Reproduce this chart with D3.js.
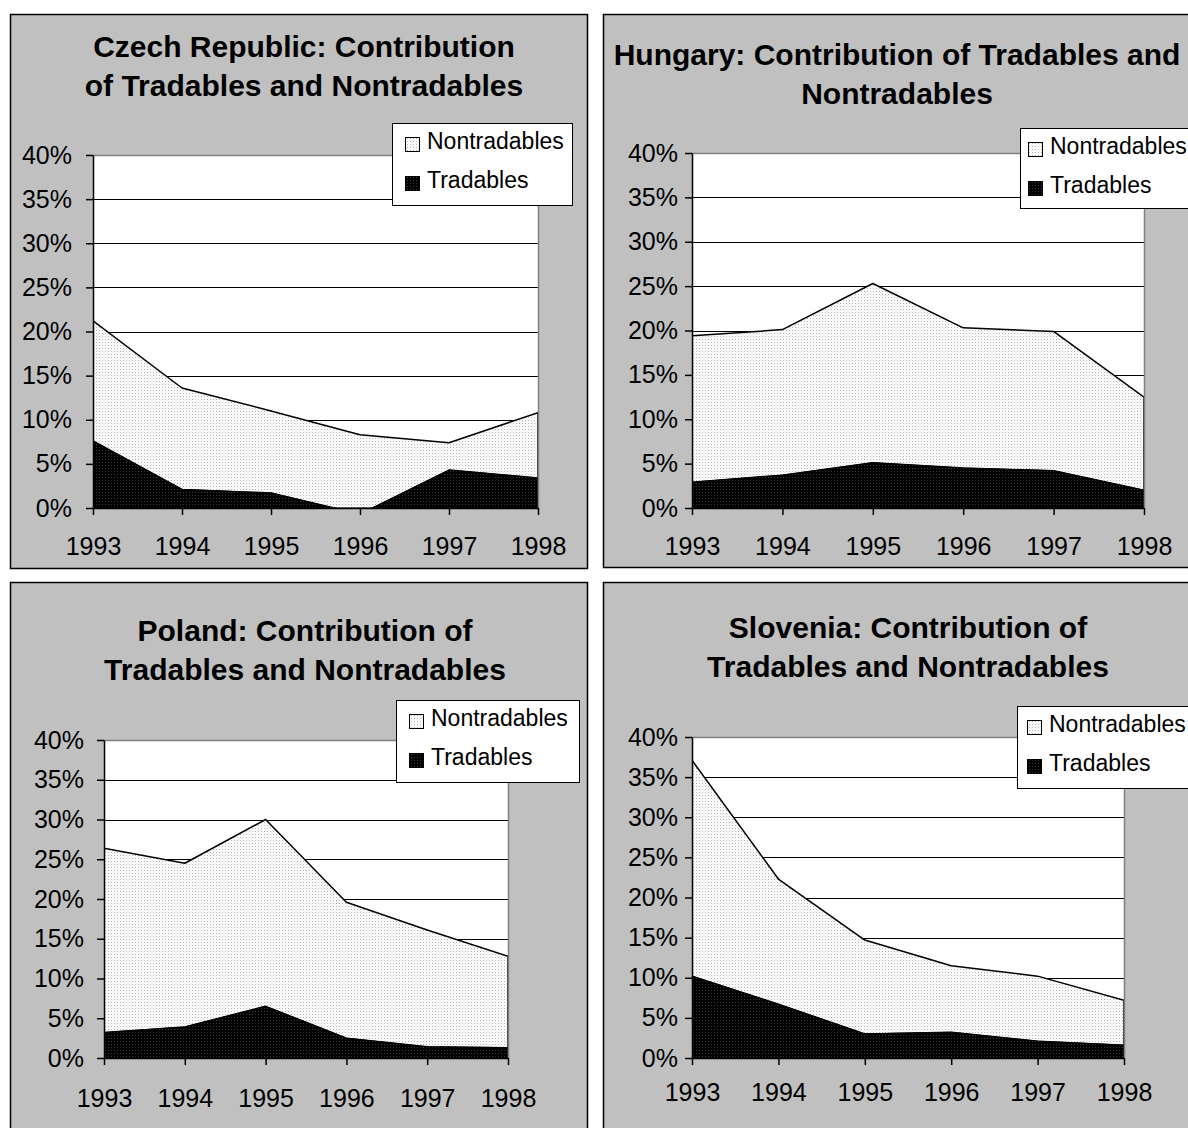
<!DOCTYPE html>
<html>
<head>
<meta charset="utf-8">
<script src="https://cdn.jsdelivr.net/npm/d3@7"></script>
<style>
  body { margin: 0; background: #fff; }
  text { font-family: "Liberation Sans", Arial, sans-serif; fill: #000; }
</style>
</head>
<body>
<div id="chart"></div>
<script>
// data (percent)
const years = [1993, 1994, 1995, 1996, 1997, 1998];
const yTicks = [0, 5, 10, 15, 20, 25, 30, 35, 40];

const czechTradables = [7.6, 2.1, 1.7, -0.7, 4.3, 3.4];
const czechNontradables = [13.6, 11.5, 9.3, 9.0, 3.1, 7.4];

const hungaryTradables = [2.9, 3.7, 5.1, 4.5, 4.2, 2.0];
const hungaryNontradables = [16.5, 16.4, 20.2, 15.8, 15.7, 10.5];

const polandTradables = [3.2, 3.9, 6.5, 2.5, 1.4, 1.3];
const polandNontradables = [23.2, 20.6, 23.5, 17.1, 14.7, 11.5];

const sloveniaTradables = [10.2, 6.7, 3.0, 3.2, 2.1, 1.6];
const sloveniaNontradables = [26.9, 15.6, 11.7, 8.3, 8.1, 5.6];

const seriesNames = ['Nontradables', 'Tradables'];

const panels = [
  { id: 'cz', title: ['Czech Republic: Contribution', 'of Tradables and Nontradables'],
    tradables: czechTradables, nontradables: czechNontradables,
    box: [10, 14, 577, 554], plot: [93, 155, 538, 508], titleX: 304, titleY: [57, 96],
    legend: [392, 123, 180, 82], yGap: 14, xLabelC: 38, legendText: 35 },
  { id: 'hu', title: ['Hungary: Contribution of Tradables and', 'Nontradables'],
    tradables: hungaryTradables, nontradables: hungaryNontradables,
    box: [603, 14, 620, 553], plot: [692, 153, 1144, 508], titleX: 897, titleY: [65, 104],
    legend: [1020, 128, 180, 80], yGap: 7, xLabelC: 38, legendText: 30 },
  { id: 'pl', title: ['Poland: Contribution of', 'Tradables and Nontradables'],
    tradables: polandTradables, nontradables: polandNontradables,
    box: [10, 582, 577, 580], plot: [104, 740, 508, 1058], titleX: 305, titleY: [641, 680],
    legend: [396, 700, 183, 82], yGap: 13, xLabelC: 40, legendText: 35 },
  { id: 'si', title: ['Slovenia: Contribution of', 'Tradables and Nontradables'],
    tradables: sloveniaTradables, nontradables: sloveniaNontradables,
    box: [603, 582, 620, 580], plot: [692, 737, 1124, 1058], titleX: 908, titleY: [638, 677],
    legend: [1017, 706, 180, 82], yGap: 7, xLabelC: 34, legendText: 32 }
];

const svg = d3.select('#chart').append('svg')
  .attr('width', 1188)
  .attr('height', 1128);

// fill patterns
const defs = svg.append('defs');
const light = defs.append('pattern').attr('id', 'patLight')
  .attr('width', 3).attr('height', 3).attr('patternUnits', 'userSpaceOnUse');
light.append('rect').attr('width', 3).attr('height', 3).attr('fill', '#fff');
light.append('rect').attr('width', 1).attr('height', 1).attr('fill', '#b0b0b0');
light.append('rect').attr('x', 1.5).attr('y', 1.5).attr('width', 1).attr('height', 1).attr('fill', '#d8d8d8');

const dark = defs.append('pattern').attr('id', 'patDark')
  .attr('width', 3).attr('height', 3).attr('patternUnits', 'userSpaceOnUse');
dark.append('rect').attr('width', 3).attr('height', 3).attr('fill', '#000');
dark.append('rect').attr('width', 1).attr('height', 1).attr('fill', '#3a3a3a');

const drawPanel = (p) => {
  const [bx, by, bw, bh] = p.box;
  const [x0, y0, x1, y1] = p.plot;
  const g = svg.append('g').attr('class', 'panel-' + p.id);

  g.append('rect')
    .attr('x', bx + 0.5).attr('y', by + 0.5)
    .attr('width', bw).attr('height', bh)
    .attr('fill', '#c0c0c0').attr('stroke', '#000').attr('stroke-width', 1.5);

  g.selectAll('text.title')
    .data(p.title)
    .enter()
    .append('text')
    .attr('class', 'title')
    .attr('x', p.titleX)
    .attr('y', (d, i) => p.titleY[i])
    .attr('text-anchor', 'middle')
    .style('font-size', '30px')
    .style('font-weight', 'bold')
    .text(d => d);

  const x = d3.scalePoint().domain(years).range([x0, x1]);
  const y = d3.scaleLinear().domain([0, 40]).range([y1, y0]);

  g.append('rect')
    .attr('x', x0).attr('y', y0).attr('width', x1 - x0).attr('height', y1 - y0)
    .attr('fill', '#fff');

  // gridlines
  g.selectAll('line.grid')
    .data(yTicks.filter(t => t > 0 && t < 40))
    .enter()
    .append('line')
    .attr('x1', x0).attr('x2', x1)
    .attr('y1', d => Math.round(y(d)) + 0.5).attr('y2', d => Math.round(y(d)) + 0.5)
    .attr('stroke', '#000').attr('stroke-width', 1);

  const clipId = 'clip-' + p.id;
  g.append('clipPath').attr('id', clipId)
    .append('rect').attr('x', x0).attr('y', y0).attr('width', x1 - x0).attr('height', y1 - y0);

  const rows = years.map((yr, i) => ({
    year: yr,
    t: p.tradables[i],
    total: p.tradables[i] + p.nontradables[i]
  }));

  const areaTrad = d3.area()
    .x(d => x(d.year))
    .y0(y(0))
    .y1(d => y(d.t));
  const areaNon = d3.area()
    .x(d => x(d.year))
    .y0(d => y(d.t))
    .y1(d => y(d.total));

  const areas = g.append('g').attr('clip-path', `url(#${clipId})`);
  areas.append('path')
    .datum(rows)
    .attr('d', areaNon)
    .attr('fill', 'url(#patLight)')
    .attr('stroke', '#000').attr('stroke-width', 1.5)
    .attr('stroke-linejoin', 'round');
  areas.append('path')
    .datum(rows)
    .attr('d', areaTrad)
    .attr('fill', 'url(#patDark)')
    .attr('stroke', '#000').attr('stroke-width', 1);

  // plot area border (top, right)
  g.append('path')
    .attr('d', `M${x0},${y0 + 0.5}H${x1 + 0.5}V${y1}`)
    .attr('fill', 'none').attr('stroke', '#808080').attr('stroke-width', 1.5);

  const yAxis = d3.axisLeft(y)
    .tickValues(yTicks)
    .tickSize(7)
    .tickSizeOuter(0)
    .tickPadding(p.yGap)
    .tickFormat(d => d + '%');
  const ya = g.append('g').attr('transform', `translate(${x0},0)`).call(yAxis);

  const xAxis = d3.axisBottom(x)
    .tickSize(7)
    .tickSizeOuter(0)
    .tickPadding(p.xLabelC - 7 - 9);
  const xa = g.append('g').attr('transform', `translate(0,${y1})`).call(xAxis);

  [ya, xa].forEach(a => {
    a.select('.domain').attr('stroke', '#000').attr('stroke-width', 1.5);
    a.selectAll('.tick line').attr('stroke', '#000').attr('stroke-width', 1.5);
    a.selectAll('.tick text')
      .style('font-family', '"Liberation Sans", Arial, sans-serif')
      .style('font-size', '25px')
      .attr('fill', '#000');
  });

  // legend
  const [lx, ly, lw, lh] = p.legend;
  const lg = g.append('g');
  lg.append('rect')
    .attr('x', lx + 0.5).attr('y', ly + 0.5).attr('width', lw).attr('height', lh)
    .attr('fill', '#fff').attr('stroke', '#000').attr('stroke-width', 1);
  const items = lg.selectAll('g.item')
    .data(seriesNames)
    .enter()
    .append('g')
    .attr('transform', (d, i) => `translate(${lx},${ly + i * 39})`);
  items.append('rect')
    .attr('x', p.legendText - 21.5).attr('y', 14.5).attr('width', 14).attr('height', 14)
    .attr('fill', (d, i) => i === 0 ? 'url(#patLight)' : 'url(#patDark)')
    .attr('stroke', '#000').attr('stroke-width', 1);
  items.append('text')
    .attr('x', p.legendText).attr('y', 26)
    .style('font-size', '23px')
    .text(d => d);
};

panels.forEach(drawPanel);
</script>
</body>
</html>
